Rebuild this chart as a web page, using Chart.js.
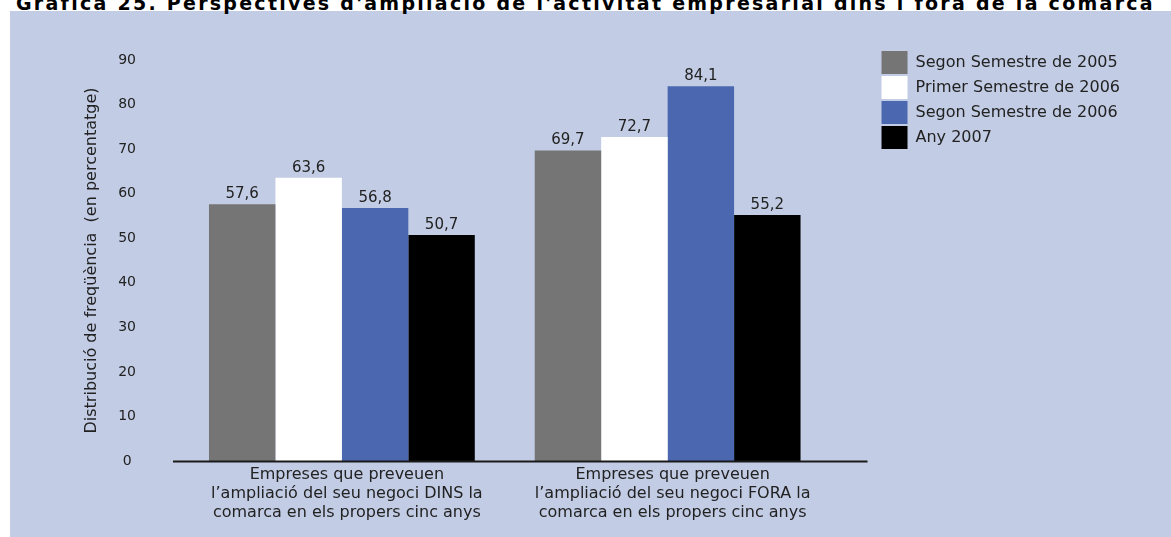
<!DOCTYPE html>
<html>
<head>
<meta charset="utf-8">
<script src="https://cdn.jsdelivr.net/npm/chart.js@4.4.0/dist/chart.umd.min.js"></script>
<style>
  html, body { margin: 0; padding: 0; background: #fff; width: 1171px; height: 537px; overflow: hidden; }
  #panel { position: absolute; left: 10px; top: 11px; width: 1161px; height: 526px; background: #c2cce4; }
  #title { position: absolute; left: 16px; top: -8px; font: bold 19px "DejaVu Sans"; letter-spacing: 2.27px; white-space: nowrap; color: #000; }
  #chart { position: absolute; left: 0; top: 0; }
</style>
</head>
<body>
<div id="panel"></div>
<div id="title">Gràfica 25. Perspectives d'ampliació de l'activitat empresarial dins i fora de la comarca</div>
<canvas id="chart" width="1171" height="537"></canvas>
<script>
// categories (multi-line labels)
const categories = [
  ['Empreses que preveuen', 'l’ampliació del seu negoci DINS la', 'comarca en els propers cinc anys'],
  ['Empreses que preveuen', 'l’ampliació del seu negoci FORA la', 'comarca en els propers cinc anys']
];
const seriesNames = ['Segon Semestre de 2005', 'Primer Semestre de 2006', 'Segon Semestre de 2006', 'Any 2007'];
const sem2_2005 = [57.6, 69.7];
const sem1_2006 = [63.6, 72.7];
const sem2_2006 = [56.8, 84.1];
const any2007   = [50.7, 55.2];
const yMin = 0, yMax = 90, yStep = 10;

const colors = ['#757575', '#ffffff', '#4a67af', '#000000'];
const FONT = 'DejaVu Sans';
const TXT = '#222';
const LEGEND_SIZE = 16;

// legend starts at x=880 (box at 882); right padding follows from its text width
const mctx = document.createElement('canvas').getContext('2d');
mctx.font = LEGEND_SIZE + 'px "' + FONT + '"';
const legendTextW = Math.max(...seriesNames.map(n => mctx.measureText(n).width));
const legendW = 2 + 26 + LEGEND_SIZE / 2 + legendTextW + 10;
const padRight = Math.max(0, Math.round(1171 - 880 - legendW));

// axis line under the bars, a bit longer than the plot area like the original
const baseLine = {
  id: 'baseLine',
  afterDatasetsDraw(chart){
    const {ctx, chartArea, scales} = chart;
    const y = Math.round(scales.y.getPixelForValue(0)) + 0.5;
    ctx.save();
    ctx.strokeStyle = '#1a1a1a';
    ctx.lineWidth = 2;
    ctx.beginPath();
    ctx.moveTo(chartArea.left - 6, y);
    ctx.lineTo(chartArea.right + 37, y);
    ctx.stroke();
    ctx.restore();
  }
};

const valueLabels = {
  id: 'valueLabels',
  afterDatasetsDraw(chart){
    const {ctx} = chart;
    ctx.save();
    ctx.font = '15px "' + FONT + '"';
    ctx.fillStyle = TXT;
    ctx.textAlign = 'center';
    ctx.textBaseline = 'alphabetic';
    chart.data.datasets.forEach((ds, i) => {
      chart.getDatasetMeta(i).data.forEach((bar, j) => {
        ctx.fillText(ds.data[j].toFixed(1).replace('.', ','), bar.x, bar.y - 6);
      });
    });
    ctx.restore();
  }
};

const data = [sem2_2005, sem1_2006, sem2_2006, any2007];

new Chart(document.getElementById('chart'), {
  type: 'bar',
  data: {
    labels: categories,
    datasets: seriesNames.map((n, i) => ({
      label: n,
      data: data[i],
      backgroundColor: colors[i],
      borderWidth: 0,
      categoryPercentage: 0.816,
      barPercentage: 1
    }))
  },
  options: {
    responsive: false,
    animation: false,
    layout: { padding: { left: 82, top: 49, right: padRight, bottom: 0 } },
    plugins: {
      tooltip: { enabled: false },
      legend: {
        position: 'right',
        align: 'start',
        maxWidth: 400,
        labels: {
          boxWidth: 26, boxHeight: 23, padding: 2,
          color: TXT,
          font: { family: FONT, size: LEGEND_SIZE }
        }
      }
    },
    scales: {
      x: {
        grid: { display: false, drawTicks: false },
        border: { display: false },
        ticks: { color: TXT, padding: 4, labelOffset: 5, maxRotation: 0, font: { family: FONT, size: 16, lineHeight: 1.19 } },
        afterFit: s => { s.height = 76; }
      },
      y: {
        min: yMin, max: yMax,
        grid: { display: false, drawTicks: false, tickLength: 0 },
        border: { display: false },
        ticks: { stepSize: yStep, color: TXT, padding: 43, crossAlign: 'center', font: { family: FONT, size: 14 } },
        title: { display: true, text: 'Distribució de freqüència  (en percentatge)', color: TXT, padding: 0, font: { family: FONT, size: 16 } },
        afterFit: s => { s.width = 97; }
      },
      gapRight: {
        position: 'right', display: true,
        grid: { display: false }, border: { display: false }, ticks: { display: false },
        afterFit: s => { s.width = 49; }
      },
      gapTop: {
        axis: 'x', type: 'linear', position: 'top', display: true,
        grid: { display: false }, border: { display: false }, ticks: { display: false },
        afterFit: s => { s.height = 11; }
      }
    }
  },
  plugins: [baseLine, valueLabels]
});
</script>
</body>
</html>
